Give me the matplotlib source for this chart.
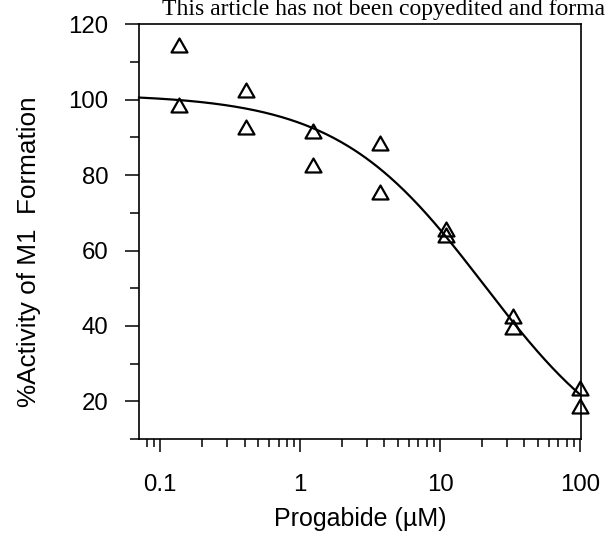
import numpy as np
import matplotlib
matplotlib.use("Agg")
import matplotlib.pyplot as plt
from matplotlib.path import Path
from matplotlib.ticker import FixedLocator, NullFormatter

plt.rcParams['font.family'] = ['Liberation Sans', 'DejaVu Sans']

# ---- data ----
concentration = [0.1372, 0.412, 1.235, 3.70, 11.1, 33.3, 100.0]
activity_rep1 = [114.6, 102.7, 91.6, 88.6, 65.6, 42.5, 23.6]
activity_rep2 = [98.6, 92.7, 82.6, 75.5, 64.0, 39.8, 18.8]

# fitted inhibition curve parameters (read from the drawn fit)
fit_top = 101.5
fit_bottom = 0.0
fit_ic50 = 20.7
fit_hill = 0.824

x_major_ticks = [0.1, 1, 10, 100]
x_tick_labels = ["0.1", "1", "10", "100"]
y_major_ticks = [20, 40, 60, 80, 100, 120]
y_tick_labels = ["20", "40", "60", "80", "100", "120"]
y_minor_ticks = [10, 30, 50, 70, 90, 110]

W, H = 605, 542
fig = plt.figure(figsize=(W / 100, H / 100), dpi=100)
ax = fig.add_axes([139 / W, 1 - 439 / H, (581 - 139) / W, (439 - 24.3) / H])

# fit curve
xc = np.logspace(np.log10(0.0705), np.log10(100.0), 300)
yc = fit_bottom + (fit_top - fit_bottom) / (1 + (xc / fit_ic50) ** fit_hill)
ax.plot(xc, yc, color='black', lw=1.6, zorder=2, clip_on=False)

tri = Path([(-1, -0.875), (1, -0.875), (0, 0.875), (-1, -0.875)],
           [Path.MOVETO, Path.LINETO, Path.LINETO, Path.CLOSEPOLY])
xs = concentration + concentration
ys = activity_rep1 + activity_rep2
ax.plot(xs, ys, linestyle='none', marker=tri, markersize=11.5,
        markerfacecolor='none', markeredgecolor='black', markeredgewidth=1.6,
        zorder=3, clip_on=False)

ax.set_xscale('log')
ax.set_xlim(0.0705, 101.5)
ax.set_ylim(10, 120)

ax.xaxis.set_major_locator(FixedLocator(x_major_ticks))
ax.set_xticklabels(x_tick_labels)
minor_x = [m * d for d in [0.01, 0.1, 1, 10] for m in range(2, 10)]
ax.xaxis.set_minor_locator(FixedLocator(minor_x))
ax.xaxis.set_minor_formatter(NullFormatter())

ax.set_yticks(y_major_ticks)
ax.set_yticklabels(y_tick_labels)
ax.yaxis.set_minor_locator(FixedLocator(y_minor_ticks))

for s in ax.spines.values():
    s.set_linewidth(1.2)

ax.tick_params(axis='x', which='major', direction='out', length=9, width=1.1,
               pad=16, labelsize=17.3)
ax.tick_params(axis='x', which='minor', direction='out', length=5.8, width=1.1)
ax.tick_params(axis='y', which='major', direction='out', length=10, width=1.1,
               pad=12, labelsize=17.3)
ax.tick_params(axis='y', which='minor', direction='out', length=6.5, width=1.1)

ax.set_xlabel('Progabide (µM)', fontsize=18)
ax.xaxis.set_label_coords(0.5, (439 - 507) / (439 - 24.3))
ax.set_ylabel('%Activity of M1  Formation', fontsize=18.8)
ax.yaxis.set_label_coords((41 - 139) / (581 - 139), (439 - 252) / (439 - 24.3))

fig.text(161.7 / W, 1 - 15 / H,
         'This article has not been copyedited and forma',
         family=['Liberation Serif', 'DejaVu Serif'], fontsize=17.0,
         ha='left', va='baseline')

fig.savefig('out.png', dpi=100)
